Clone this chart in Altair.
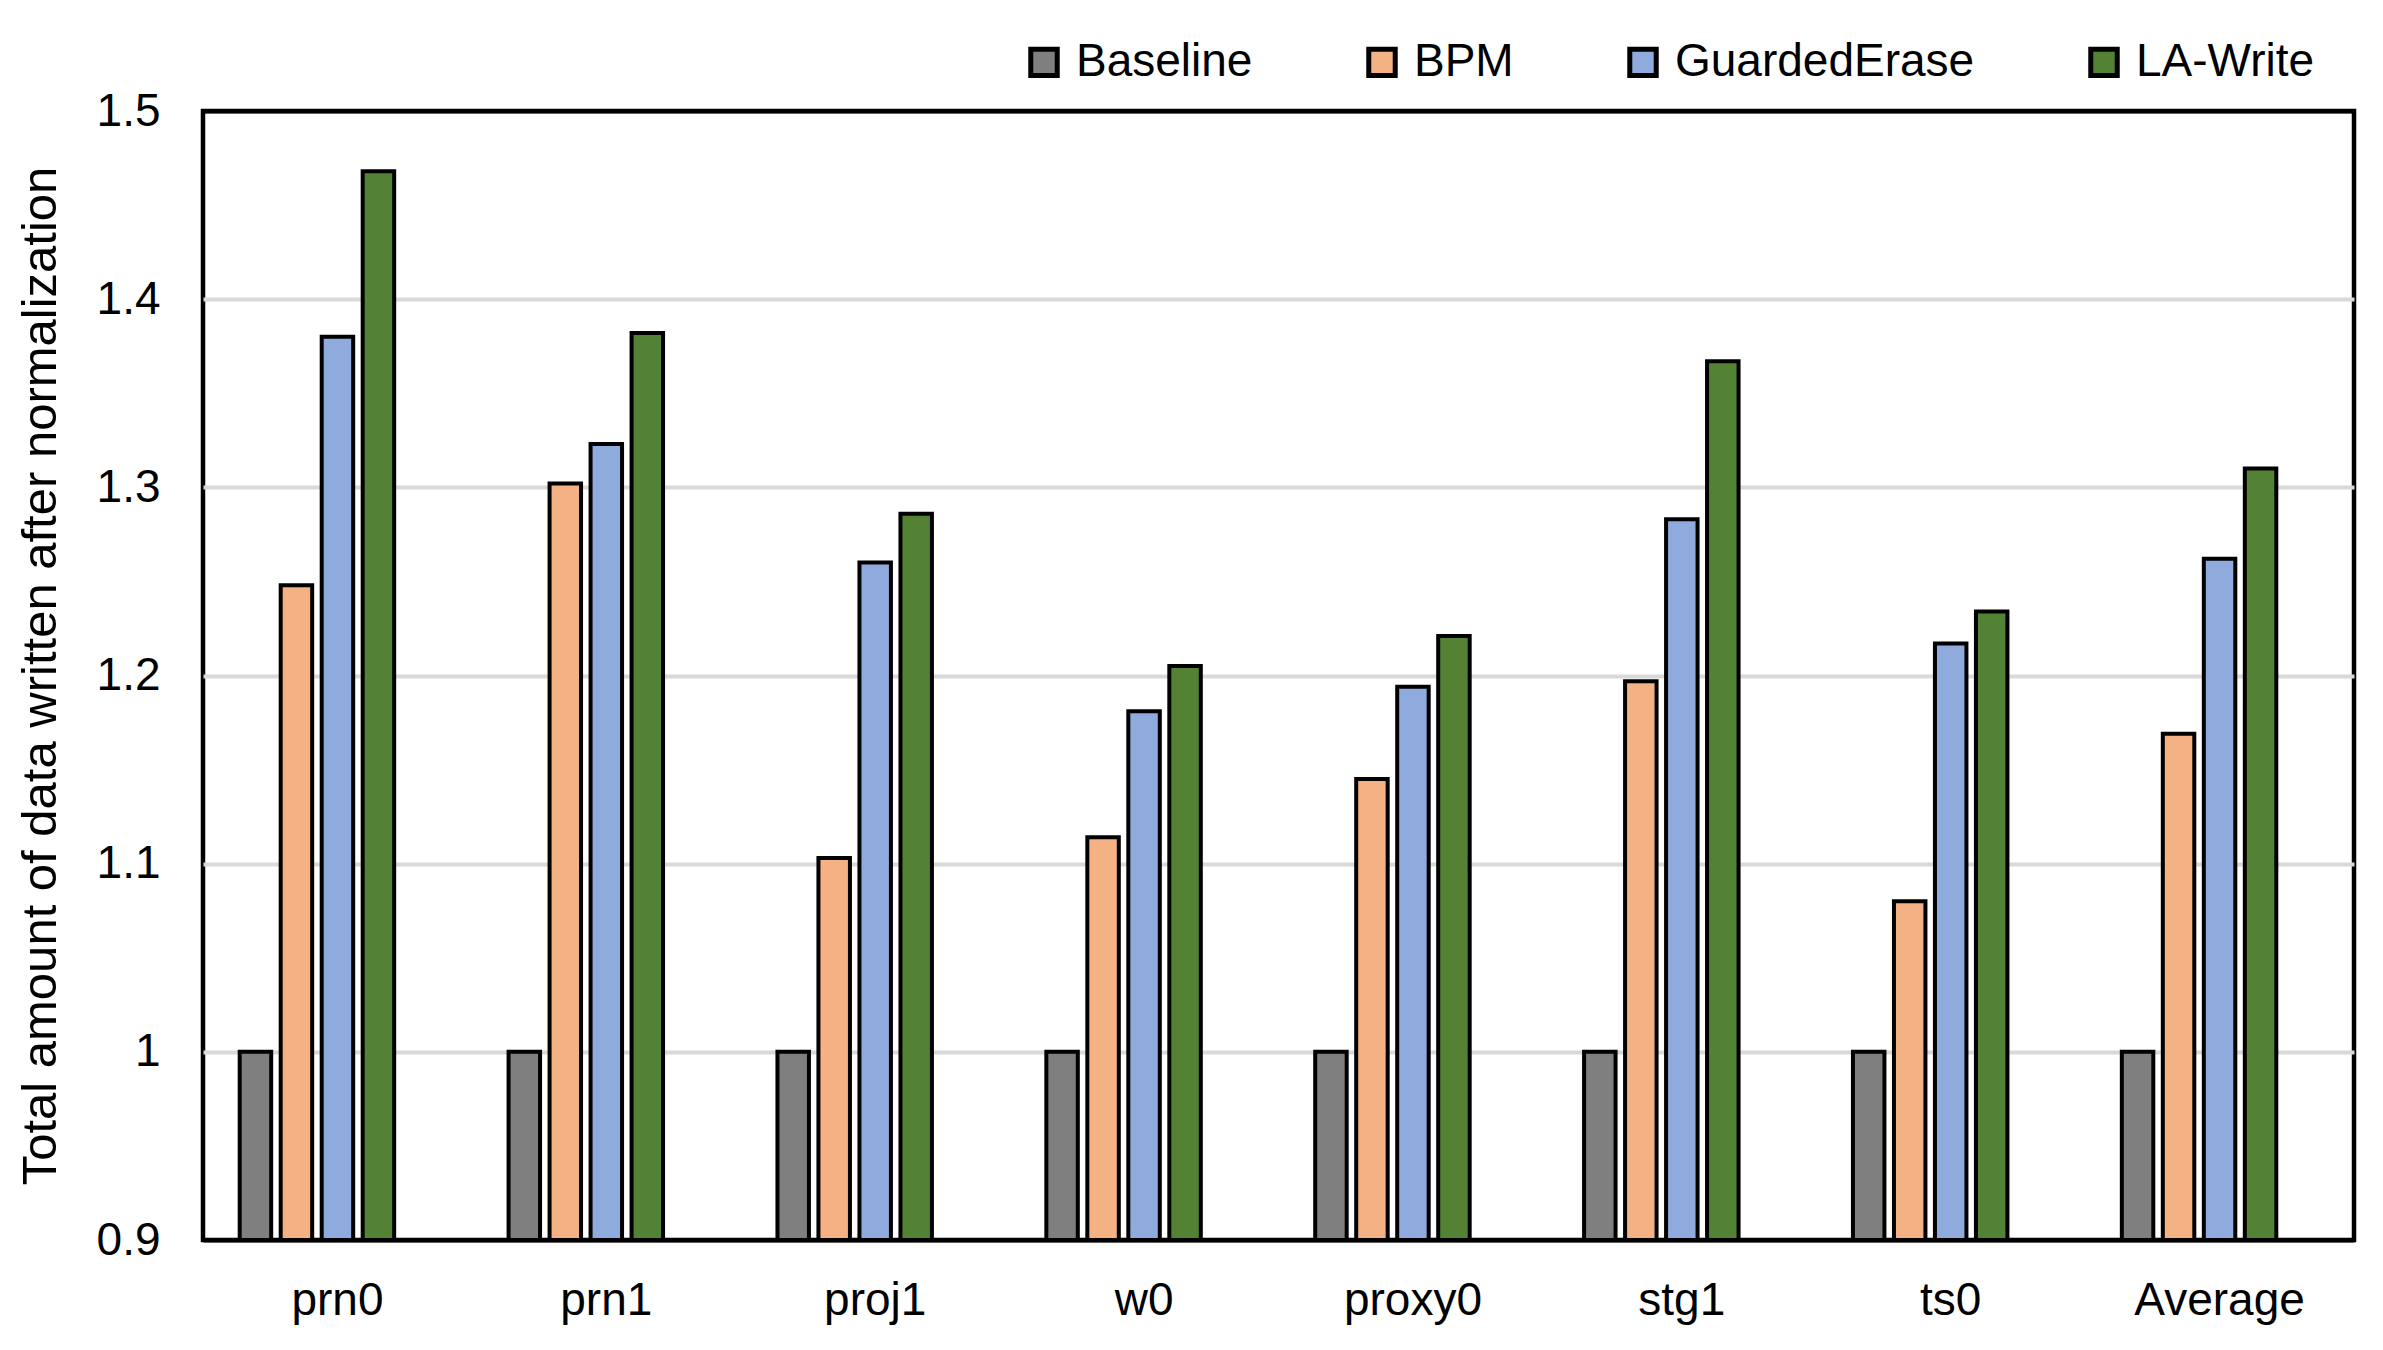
import altair as alt
import pandas as pd

categories = ["prn0", "prn1", "proj1", "w0", "proxy0", "stg1", "ts0", "Average"]
series = ["Baseline", "BPM", "GuardedErase", "LA-Write"]
baseline = [1.0, 1.0, 1.0, 1.0, 1.0, 1.0, 1.0, 1.0]
bpm = [1.248, 1.302, 1.103, 1.114, 1.145, 1.197, 1.080, 1.169]
guarded = [1.380, 1.323, 1.260, 1.181, 1.194, 1.283, 1.217, 1.262]
lawrite = [1.468, 1.382, 1.286, 1.205, 1.221, 1.367, 1.234, 1.310]
colors = ["#7F7F7F", "#F4B183", "#8FAADC", "#548235"]
y_ticks = [0.9, 1.0, 1.1, 1.2, 1.3, 1.4, 1.5]

rows = []
for name, vals in zip(series, [baseline, bpm, guarded, lawrite]):
    for c, v in zip(categories, vals):
        rows.append({"category": c, "series": name, "value": v})
df = pd.DataFrame(rows)

FONT = "Liberation Sans"

chart = (
    alt.Chart(df)
    .mark_bar(stroke="black", strokeWidth=4)
    .encode(
        x=alt.X(
            "category:N",
            sort=categories,
            scale=alt.Scale(paddingInner=0.273, paddingOuter=0.1365),
            axis=alt.Axis(
                title=None,
                labelAngle=0,
                labelFontSize=46,
                labelFont=FONT,
                labelColor="black",
                labelPadding=38,
                ticks=False,
                domain=False,
                grid=False,
            ),
        ),
        xOffset=alt.XOffset(
            "series:N",
            scale=alt.Scale(domain=series + ["_"], paddingInner=0.232, paddingOuter=0),
        ),
        y=alt.Y(
            "value:Q",
            scale=alt.Scale(domain=[0.9, 1.5], nice=False, zero=False),
            axis=alt.Axis(
                title="Total amount of data written after normalization",
                titleFontSize=49,
                titleFont=FONT,
                titleFontWeight="normal",
                titleColor="black",
                titlePadding=31,
                values=y_ticks,
                format=".1~f",
                labelFontSize=46,
                labelFont=FONT,
                labelColor="black",
                labelPadding=43,
                ticks=False,
                domain=False,
                gridColor={
                    "condition": {
                        "test": "datum.value <= 0.901 || datum.value >= 1.499",
                        "value": "black",
                    },
                    "value": "#D9D9D9",
                },
                gridWidth=4,
            ),
        ),
        y2=alt.datum(0.9),
        color=alt.Color(
            "series:N",
            sort=series,
            scale=alt.Scale(domain=series, range=colors),
            legend=alt.Legend(
                title=None,
                orient="none",
                direction="horizontal",
                legendX=818,
                legendY=-72,
                symbolType="square",
                symbolSize=700,
                symbolStrokeWidth=5,
                symbolStrokeColor="black",
                labelFontSize=46,
                labelFont=FONT,
                labelColor="black",
                labelOffset=9,
                labelLimit=1000,
                columnPadding=105,
                padding=0,
            ),
        ),
    )
    .properties(
        width=2151,
        height=1129,
        autosize=alt.AutoSizeParams(type="none"),
        padding={"left": 195, "top": 103, "right": 21, "bottom": 100},
    )
    .configure(background="white")
    .configure_view(stroke="black", strokeWidth=4.5)
)

chart.save("out.html", embed_options={"renderer": "svg", "actions": False})
